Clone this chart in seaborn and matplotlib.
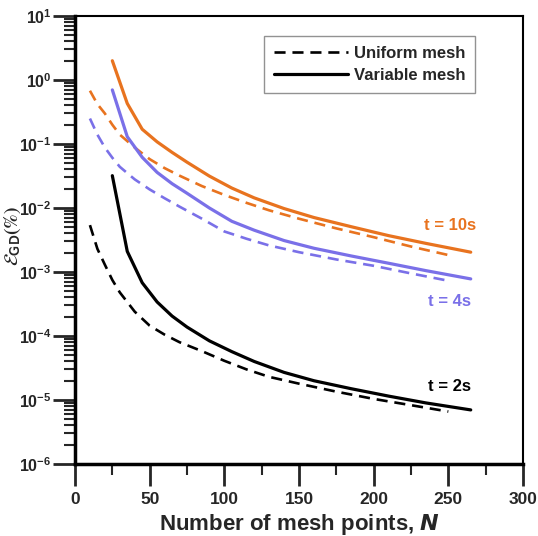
import numpy as np
import pandas as pd
import matplotlib
matplotlib.use("Agg")
import matplotlib.pyplot as plt
import seaborn as sns
from matplotlib.lines import Line2D
from matplotlib.ticker import FixedLocator, FixedFormatter, MultipleLocator, NullFormatter

# ---- data ----
N_uniform = [10, 15, 20, 25, 30, 40, 50, 60, 70, 85, 100, 115, 130, 150, 175, 200, 225, 250]
N_variable = [25, 35, 45, 55, 65, 75, 90, 105, 120, 140, 160, 185, 210, 235, 265]

uniform_t10 = [0.68, 0.42, 0.30, 0.20, 0.14, 0.088, 0.058, 0.042, 0.032, 0.022, 0.016,
               0.012, 0.0092, 0.0068, 0.0048, 0.0035, 0.0025, 0.00184]
variable_t10 = [2.0, 0.43, 0.17, 0.108, 0.074, 0.052, 0.0315, 0.0205, 0.0144, 0.0098,
                0.0071, 0.0051, 0.0037, 0.0028, 0.00204]
uniform_t4 = [0.25, 0.14, 0.088, 0.061, 0.044, 0.028, 0.0195, 0.0142, 0.0105, 0.0068,
              0.0043, 0.0033, 0.0026, 0.00204, 0.00157, 0.00125, 0.00095, 0.00073]
variable_t4 = [0.70, 0.13, 0.062, 0.036, 0.024, 0.017, 0.0100, 0.0062, 0.0045, 0.0031,
               0.00235, 0.00178, 0.00137, 0.00105, 0.00078]
uniform_t2 = [0.0054, 0.0023, 0.0013, 0.00075, 0.00048, 0.00024, 0.000145, 0.000105,
              8.0e-5, 5.8e-5, 4.1e-5, 3.0e-5, 2.3e-5, 1.8e-5, 1.35e-5, 1.04e-5, 8.3e-6, 6.6e-6]
variable_t2 = [0.032, 0.0021, 0.00068, 0.00034, 0.000205, 0.000138, 8.4e-5, 5.7e-5,
               4.0e-5, 2.7e-5, 2.0e-5, 1.5e-5, 1.15e-5, 9.0e-6, 7.0e-6]

series_labels = ["t = 10s", "t = 4s", "t = 2s"]
label_pos_N = [251, 251, 251]
label_pos_err = [0.0054, 0.00034, 1.6e-5]
colors = ["#E8731F", "#7A70E8", "#000000"]

y_ticks = [1e-6, 1e-5, 1e-4, 1e-3, 1e-2, 1e-1, 1e0, 1e1]
y_ticklabels = [r"$\mathbf{10^{-6}}$", r"$\mathbf{10^{-5}}$", r"$\mathbf{10^{-4}}$",
                r"$\mathbf{10^{-3}}$", r"$\mathbf{10^{-2}}$", r"$\mathbf{10^{-1}}$",
                r"$\mathbf{10^{0}}$", r"$\mathbf{10^{1}}$"]

# ---- style ----
sns.set_style("ticks")
plt.rcParams["font.family"] = ["Liberation Sans", "DejaVu Sans"]
plt.rcParams["mathtext.fontset"] = "custom"
plt.rcParams["mathtext.rm"] = "Liberation Sans"
plt.rcParams["mathtext.bf"] = "Liberation Sans:bold"
plt.rcParams["mathtext.it"] = "Liberation Sans:italic"
plt.rcParams["mathtext.fallback"] = "stix"

fig = plt.figure(figsize=(5.38, 5.36), dpi=100)
ax = fig.add_axes([75 / 538, 1 - 464 / 536, 448 / 538, 448 / 536])

uniform = [uniform_t10, uniform_t4, uniform_t2]
variable = [variable_t10, variable_t4, variable_t2]
for u, v, c in zip(uniform, variable, colors):
    du = pd.DataFrame({"N": N_uniform, "err": u})
    dv = pd.DataFrame({"N": N_variable, "err": v})
    sns.lineplot(data=du, x="N", y="err", ax=ax, color=c, linewidth=1.9,
                 linestyle=(0, (4.2, 2.6)), errorbar=None)
    sns.lineplot(data=dv, x="N", y="err", ax=ax, color=c, linewidth=2.3,
                 errorbar=None)

for lab, xn, ye, c in zip(series_labels, label_pos_N, label_pos_err, colors):
    ax.text(xn, ye, lab, color=c, fontsize=12, fontweight="bold",
            ha="center", va="center")

ax.set_yscale("log")
ax.set_ylim(1e-6, 1e1)
ax.set_xlim(0, 300)

ax.yaxis.set_major_locator(FixedLocator(y_ticks))
ax.yaxis.set_major_formatter(FixedFormatter(y_ticklabels))
minor = [m * 10.0 ** e for e in range(-6, 1) for m in range(2, 10)]
ax.yaxis.set_minor_locator(FixedLocator(minor))
ax.yaxis.set_minor_formatter(NullFormatter())
ax.xaxis.set_major_locator(MultipleLocator(50))
ax.xaxis.set_minor_locator(MultipleLocator(25))

ax.tick_params(which="major", direction="out", length=16, width=2,
               top=False, right=False)
ax.tick_params(axis="x", which="major", labelsize=12.5, pad=4)
ax.tick_params(axis="y", which="major", labelsize=11.5, pad=1)
ax.tick_params(which="minor", direction="out", length=8, width=1.5,
               top=False, right=False)
for t in ax.get_xticklabels():
    t.set_fontweight("bold")

for s in ["left", "bottom"]:
    ax.spines[s].set_linewidth(2.5)
for s in ["top", "right"]:
    ax.spines[s].set_linewidth(1.5)
for s in ax.spines.values():
    s.set_color("black")

ax.set_xlabel(r"Number of mesh points, $\mathbfit{N}$", fontsize=16,
              fontweight="bold", labelpad=4)
ylab = ax.set_ylabel(r"$\mathcal{E}_{\mathbf{GD}}\mathbf{(\%)}$", fontsize=14)
ylab.set_math_fontfamily("stixsans")
ax.yaxis.set_label_coords(-0.115, 0.51)

handles = [Line2D([0], [0], color="black", lw=1.9, linestyle=(0, (4.2, 2.6))),
           Line2D([0], [0], color="black", lw=2.3)]
leg = ax.legend(handles, ["Uniform mesh", "Variable mesh"], loc="upper right",
                bbox_to_anchor=(0.893, 0.955), frameon=True, fancybox=False,
                edgecolor="#777777", handlelength=4.4, handletextpad=0.35,
                borderpad=0.6, labelspacing=0.4, borderaxespad=0,
                prop={"weight": "bold", "size": 12})
leg.get_frame().set_linewidth(1.0)

fig.savefig("out.png", dpi=100)
